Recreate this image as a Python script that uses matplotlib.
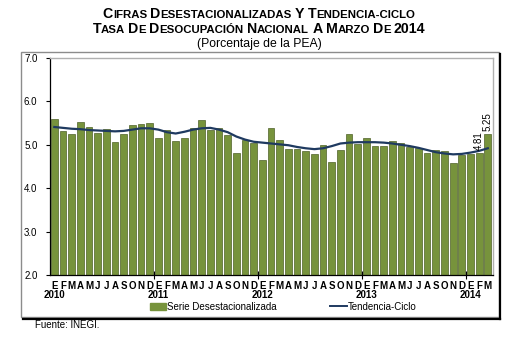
import matplotlib
matplotlib.use("Agg")
import matplotlib.pyplot as plt
from matplotlib.patches import Rectangle, Patch
from matplotlib.lines import Line2D
import numpy as np

plt.rcParams["font.family"] = ["Liberation Sans", "DejaVu Sans"]

# Tasa de desocupación, serie desestacionalizada (ene 2010 - mar 2014)
serie = [
    5.60, 5.32, 5.25, 5.53, 5.41, 5.28, 5.36, 5.07, 5.25, 5.45, 5.48, 5.51,
    5.16, 5.35, 5.09, 5.16, 5.38, 5.57, 5.35, 5.38, 5.22, 4.82, 5.10, 5.03,
    4.66, 5.38, 5.11, 4.91, 4.91, 4.86, 4.79, 5.00, 4.60, 4.88, 5.25, 5.02,
    5.15, 4.98, 4.98, 5.08, 5.04, 4.96, 4.92, 4.81, 4.88, 4.86, 4.58, 4.76,
    4.79, 4.81, 5.25,
]
tendencia = [
    5.41, 5.39, 5.37, 5.36, 5.34, 5.33, 5.32, 5.31, 5.32, 5.35, 5.38, 5.38,
    5.35, 5.29, 5.26, 5.30, 5.35, 5.38, 5.39, 5.35, 5.29, 5.19, 5.12, 5.07,
    5.05, 5.03, 5.01, 4.99, 4.95, 4.92, 4.90, 4.92, 4.97, 5.03, 5.05, 5.06,
    5.06, 5.06, 5.05, 5.03, 5.00, 4.97, 4.93, 4.88, 4.83, 4.80, 4.78, 4.79,
    4.82, 4.86, 4.92,
]
meses = ["E", "F", "M", "A", "M", "J", "J", "A", "S", "O", "N", "D"]
anios = ["2010", "2011", "2012", "2013", "2014"]
etiquetas = {49: "4.81", 50: "5.25"}

W, H = 510, 340
fig = plt.figure(figsize=(W / 100, H / 100), dpi=100)


def fx(px):
    return px / W


def fy(py):
    return 1 - py / H


# marco exterior con sombra
fig.patches.append(Rectangle((fx(21), fy(317)), fx(478), 265 / H, transform=fig.transFigure,
                             fill=False, edgecolor="#8c8c8c", linewidth=1.0))
fig.lines.append(Line2D([fx(500), fx(500)], [fy(54), fy(318.5)], transform=fig.transFigure,
                        color="black", linewidth=1.6))
fig.lines.append(Line2D([fx(23), fx(500)], [fy(318.5), fy(318.5)], transform=fig.transFigure,
                        color="black", linewidth=1.6))

ax = fig.add_axes([fx(50), fy(275), (493 - 50) / W, (275 - 58) / H])
x = np.arange(len(serie))
ax.bar(x, serie, width=0.78, color="#77933C", edgecolor="#4F6228", linewidth=0.5,
       label="Serie Desestacionalizada")
ax.plot(x, tendencia, color="#1F3A60", linewidth=1.6, label="Tendencia-Ciclo")

for i, txt in etiquetas.items():
    ax.annotate(txt, (i, serie[i]), xytext=(0, 2), textcoords="offset points",
                rotation=90, ha="center", va="bottom", fontsize=7)

ax.set_xlim(-0.5, 50.6)
ax.set_ylim(2.0, 7.0)
ax.set_yticks(np.arange(2.0, 7.01, 1.0))
ax.set_yticklabels([f"{v:.1f}" for v in np.arange(2.0, 7.01, 1.0)], fontsize=7)
ax.tick_params(axis="y", direction="out", length=3, width=0.8, pad=6)

ax.set_xticks(x)
ax.set_xticklabels([meses[i % 12] for i in x], fontsize=7, fontweight="bold")
ax.tick_params(axis="x", which="major", length=0, pad=4)
ax.set_xticks([11.5, 23.5, 35.5, 47.5], minor=True)
ax.tick_params(axis="x", which="minor", direction="inout", length=6, width=0.8)

for k, a in enumerate(anios):
    ax.text(12 * k, -0.068, a, transform=ax.get_xaxis_transform(), ha="center", va="top",
            fontsize=7, fontweight="bold")

for s in ["top", "right"]:
    ax.spines[s].set_color("#b0b0b0")
    ax.spines[s].set_linewidth(1.0)
for s in ["left", "bottom"]:
    ax.spines[s].set_color("black")
    ax.spines[s].set_linewidth(0.9)

handles = [Patch(facecolor="#77933C", edgecolor="#77933C"),
           Line2D([], [], color="#1F3A60", linewidth=1.4)]
fig.legend(handles, ["Serie Desestacionalizada", "Tendencia-Ciclo"], loc="center",
           bbox_to_anchor=(fx(283), fy(307)), ncol=2, frameon=False, fontsize=7,
           handlelength=1.7, handleheight=0.8, handletextpad=0.1, columnspacing=5.5,
           borderpad=0.1)

fig.text(fx(35), fy(325), "Fuente: INEGI.", fontsize=7, va="center")

# títulos en versalitas: letras iniciales grandes, resto pequeño
renderer = fig.canvas.get_renderer()


def versalitas(partes, cy, big=10.2, small=8.2):
    sp = fig.text(0, 0, "I I", fontsize=small, fontweight="bold")
    nsp = fig.text(0, 0, "II", fontsize=small, fontweight="bold")
    gap = sp.get_window_extent(renderer).width - nsp.get_window_extent(renderer).width
    sp.remove()
    nsp.remove()
    items = []
    total = 0
    for txt, grande in partes:
        if txt == " ":
            items.append((None, gap))
            total += gap
            continue
        t = fig.text(0, fy(cy), txt, fontsize=big if grande else small, fontweight="bold",
                     va="baseline")
        w = t.get_window_extent(renderer).width
        items.append((t, w))
        total += w
    pos = 259 - total / 2
    for t, w in items:
        if t is not None:
            t.set_x(fx(pos))
        pos += w


def partir(frase, grandes):
    partes = []
    for j, palabra in enumerate(frase.split(" ")):
        if j:
            partes.append((" ", False))
        if palabra in grandes:
            partes.append((palabra, True))
        else:
            partes.append((palabra[0], True))
            partes.append((palabra[1:], False))
    return partes


versalitas(partir("CIFRAS DESESTACIONALIZADAS Y TENDENCIA-CICLO", ["Y"]), 17.5)
versalitas(partir("TASA DE DESOCUPACIÓN NACIONAL A MARZO DE 2014", ["A", "2014"]), 33)
fig.text(fx(259), fy(44), "(Porcentaje de la PEA)", fontsize=8.8, ha="center", va="center")

fig.savefig("out.png", dpi=100)
